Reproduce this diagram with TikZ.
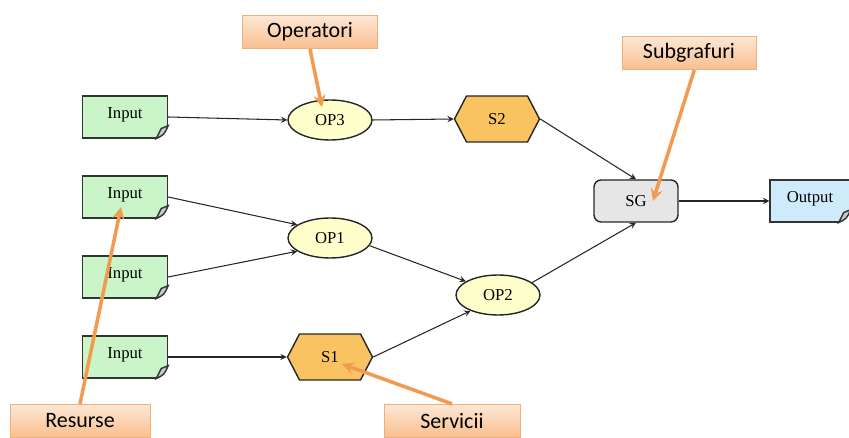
\documentclass[tikz,border=0pt]{standalone}
\usepackage{fontspec}
\setmainfont{Liberation Serif}
\newfontfamily\calloutfont{Carlito}
\usepackage{tikz}
\usetikzlibrary{calc,shapes.geometric,shapes.symbols}
\tikzset{>=stealth}

\definecolor{docgreen}{HTML}{C9F5C9}
\definecolor{docblue}{HTML}{CDEBFA}
\definecolor{opyellow}{HTML}{FFFFCC}
\definecolor{hexorange}{HTML}{FAC362}
\definecolor{sggray}{HTML}{E6E6E6}
\definecolor{calltop}{HTML}{FDE8D6}
\definecolor{callbot}{HTML}{F9BE8E}
\definecolor{calledge}{HTML}{F0B07A}
\definecolor{callarrow}{HTML}{F29A50}

\begin{document}
\begin{tikzpicture}[x=0.02cm,y=-0.02cm,
    nodetext/.style={font=\fontsize{9.5}{10}\selectfont},
    doc/.style={nodetext,draw=black!80,line width=0.8pt,minimum width=1.7cm,
      inner sep=0pt,text height=12.6pt,text depth=11.2pt},
    oper/.style={nodetext,ellipse,draw=black!85,line width=0.8pt,fill=opyellow,
      minimum width=1.68cm,minimum height=0.8cm,inner sep=0pt},
    serv/.style={nodetext,signal,signal to=east and west,signal pointer angle=125,
      draw=black!85,line width=0.8pt,fill=hexorange,minimum width=1.7cm,
      minimum height=0.92cm,inner sep=0pt},
    callout/.style={draw=calledge,top color=calltop,bottom color=callbot,
      minimum height=0.67cm,inner sep=0pt,font=\calloutfont\fontsize{12.5}{14}\selectfont},
    flow/.style={->,line width=0.6pt,black!85},
    pointer/.style={->,line width=2pt,callarrow}]

  \useasboundingbox (0,0) rectangle (849,438);

  % resources
  \node[doc,fill=docgreen] (in1) at (125,117) {Input};
  \node[doc,fill=docgreen] (in2) at (125,197) {Input};
  \node[doc,fill=docgreen] (in3) at (125,277) {Input};
  \node[doc,fill=docgreen] (in4) at (125,357) {Input};
  \node[doc,fill=docblue,minimum width=1.6cm] (out) at (810,201) {Output};

  % folded corners
  \foreach \n/\c in {in1/docgreen,in2/docgreen,in3/docgreen,in4/docgreen,out/docblue}{
    \fill[white] ($(\n.south east)+(-13,2)$) -- ($(\n.south east)+(2,2)$) -- ($(\n.south east)+(2,-13)$) -- cycle;
    \draw[line width=0.8pt,black!80,fill=\c!70!black!55] ($(\n.south east)+(-12,0)$) -- ($(\n.south east)+(-7,-10)$) -- ($(\n.south east)+(0,-13)$) .. controls ($(\n.south east)+(-4,-4)$) .. cycle;
  }

  % operators and services
  \node[oper] (op3) at (330,120) {OP3};
  \node[oper] (op1) at (330,238) {OP1};
  \node[oper] (op2) at (498,295) {OP2};
  \node[serv] (s2) at (497,119) {S2};
  \node[serv] (s1) at (330,357) {S1};
  \node[nodetext,draw=black!85,line width=0.8pt,fill=sggray,rounded corners=4pt,
    minimum width=1.68cm,minimum height=0.84cm] (sg) at (636,201) {SG};

  % flow
  \draw[flow] (in1.east) -- (op3.west);
  \draw[flow] (op3.east) -- (s2.west);
  \draw[flow] (s2.east) -- (sg.north);
  \draw[flow] (in2.east) -- (op1.158);
  \draw[flow] (in3.east) -- (op1.202);
  \draw[flow] (op1.-11) -- (op2.157);
  \draw[flow] (in4.east) -- (s1.west);
  \draw[flow] (s1.east) -- (op2.210);
  \draw[flow] (op2.20) -- (sg.south);
  \draw[flow] (sg.east) -- (out.west);

  % callouts
  \node[callout,minimum width=2.7cm] (operatori) at (310,32) {Operatori};
  \node[callout,minimum width=2.68cm] (subgrafuri) at (689,53) {Subgrafuri};
  \node[callout,minimum width=2.8cm] (resurse) at (80,421) {Resurse};
  \node[callout,minimum width=2.72cm] (servicii) at (452,421) {Servicii};

  \coordinate (opTip) at (322,107);
  \coordinate (sgTip) at (653,201);
  \coordinate (inTip) at (121,207);
  \coordinate (sTip) at (342,364);

  \draw[pointer] (operatori.south) -- (opTip);
  \draw[pointer] ([xshift=3pt]subgrafuri.south) -- (sgTip);
  \draw[pointer] (resurse.north) -- (inTip);
  \draw[pointer] (servicii.north) -- (sTip);

\end{tikzpicture}
\end{document}
